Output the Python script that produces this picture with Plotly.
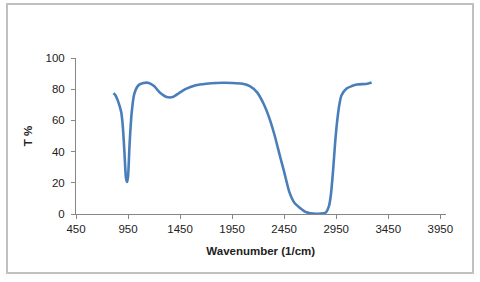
import plotly.graph_objects as go

wavenumber = [810, 830, 850, 870, 885, 900, 915, 930, 940, 950, 965, 985, 1010, 1050, 1100, 1150,
              1200, 1260, 1320, 1380, 1440, 1500, 1600, 1700, 1800, 1950, 2050, 2120,
              2190, 2250, 2310, 2360, 2410, 2450, 2500, 2550, 2600, 2650, 2700, 2800,
              2850, 2880, 2900, 2920, 2940, 2960, 2980, 3000, 3050, 3100, 3150, 3250, 3290]
transmittance = [77.5, 76, 73, 69, 65, 56, 40, 23, 20.5, 24, 45, 65, 77, 82.5, 84, 84,
                 82, 77.5, 75, 75, 77.5, 80, 82.5, 83.5, 84, 84, 83.5, 82,
                 78, 71, 61, 50, 37, 27, 14, 7, 4, 1.5, 0.5, 0.3,
                 1, 5, 13, 28, 46, 60, 70, 76, 80.5, 82, 83, 83.5, 84.3]
x_ticks = [450, 950, 1450, 1950, 2450, 2950, 3450, 3950]
y_ticks = [0, 20, 40, 60, 80, 100]

W, H = 480, 282


def px(x):
    return x / W


def py(y):
    return 1 - y / H


fig = go.Figure()
fig.add_trace(go.Scatter(x=wavenumber, y=transmittance, mode="lines",
                         line=dict(color="#4a7ebb", width=2.6, shape="spline", smoothing=0.6),
                         showlegend=False, hoverinfo="skip"))

font = dict(family="Liberation Sans, Arial, sans-serif", size=11.5, color="#222222")
fig.update_layout(
    width=W, height=H, margin=dict(l=0, r=0, t=0, b=0),
    paper_bgcolor="white", plot_bgcolor="white", font=font,
    xaxis=dict(domain=[px(76), px(445.5)], range=[450, 4000], tickvals=x_ticks,
               showgrid=False, zeroline=False, showline=True, linecolor="#868686", linewidth=1,
               ticks="outside", ticklen=4, tickcolor="#868686", tickfont=font, automargin=False,
               title=dict(text="<b>Wavenumber (1/cm)</b>", font=font, standoff=13)),
    yaxis=dict(domain=[py(214), py(58)], range=[0, 100], tickvals=y_ticks,
               showgrid=False, zeroline=False, showline=True, linecolor="#868686", linewidth=1,
               ticks="outside", ticklen=4, tickcolor="#868686", tickfont=font, automargin=False,
               ticklabelstandoff=4,
               title=dict(text="<b>T %</b>", font=font, standoff=10)),
    shapes=[dict(type="rect", xref="paper", yref="paper",
                 x0=px(7), x1=px(473), y0=py(273), y1=py(4),
                 line=dict(color="#c0c0c0", width=2), fillcolor="rgba(0,0,0,0)")],
)
fig.write_html("out.html", config={"displayModeBar": False},
               post_script="document.body.style.margin='0';document.body.style.overflow='hidden';")
